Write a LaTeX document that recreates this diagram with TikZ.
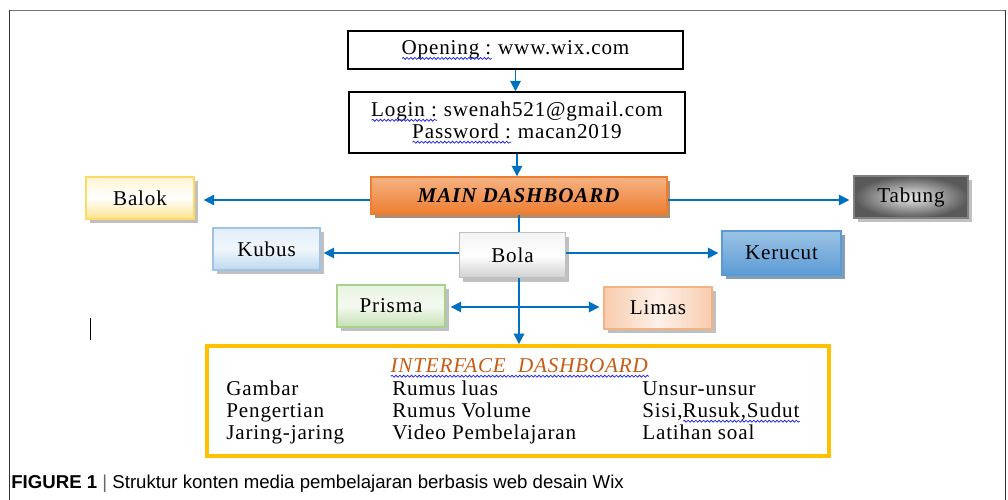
\documentclass[tikz,border=0pt]{standalone}
\usepackage{fontspec}
\setmainfont{Liberation Serif}[LetterSpace=4]
\newfontfamily\capfont{Liberation Sans}
\usetikzlibrary{positioning, calc, arrows.meta, shadows, decorations.pathmorphing}

\definecolor{linkblue}{RGB}{0,112,192}
\definecolor{spellblue}{RGB}{40,40,230}
\definecolor{titleorange}{RGB}{197,90,17}
\definecolor{goldline}{RGB}{255,192,0}
\definecolor{shadowblue}{RGB}{31,78,121}

\newlength\wavelen
\newcommand\spellwave[1]{\settowidth\wavelen{#1}\rlap{#1}\tikz[baseline=0pt]\draw[spellblue, line width=0.45pt,
	decorate, decoration={snake, amplitude=0.55pt, segment length=2.2pt}] (0pt,-2.4pt) -- (\wavelen,-2.4pt);}

\tikzset{
	plainbox/.style={draw, line width=0.8pt},
	tile/.style={line width=0.8pt, minimum width=2.16cm, minimum height=0.84cm,
		drop shadow={shadow xshift=2pt, shadow yshift=-2.5pt, fill=#1, opacity=0.55}},
	tile/.default=black!45,
	link/.style={draw=linkblue, line width=1pt, -{Triangle[length=6pt, width=6pt]}},
	wire/.style={draw=linkblue, line width=1pt},
	item/.style={anchor=base west, inner sep=0pt}
}

\begin{document}
\begin{tikzpicture}[x=0.02cm, y=-0.02cm, font=\fontsize{12}{12.5}\selectfont]
\useasboundingbox (0,0) rectangle (1008,500);
\draw[black!55, line width=0.9pt] (9.5,10.5) -- (1005.5,10.5);
\draw[black!80, line width=0.9pt] (9.5,10) -- (9.5,500) (1005.5,10) -- (1005.5,500);

\node[plainbox, minimum width=6.7cm, minimum height=0.76cm] (open) at (515.5,50)
	{\spellwave{Opening :} www.wix.com};
\node[plainbox, minimum width=6.72cm, minimum height=1.22cm, align=center] (login) at (517,122.5)
	{\spellwave{Login :} swenah521@gmail.com\\\spellwave{Password :} macan2019};

\node[tile=orange!40!black, draw={rgb,255:red,237;green,125;blue,49}, minimum width=5.92cm, minimum height=0.74cm,
	top color={rgb,255:red,246;green,179;blue,131}, bottom color={rgb,255:red,237;green,125;blue,49}] (main) at (519,195.5)
	{\textbf{\textit{MAIN DASHBOARD}}};

\node[tile, draw={rgb,255:red,255;green,217;blue,102}, top color={rgb,255:red,255;green,244;blue,210},
	bottom color={rgb,255:red,255;green,226;blue,140}, middle color=white] (balok) at (140,198) {Balok};
\node[tile, draw=black!50, minimum width=2.28cm, inner color=black!8, outer color=black!65] (tabung) at (911,197) {Tabung};

\node[tile, draw=black!25, minimum width=2.12cm, minimum height=0.9cm, top color=black!5,
	bottom color=black!18, middle color=white] (bola) at (512.5,255) {Bola};
\node[tile, draw={rgb,255:red,157;green,195;blue,230}, minimum width=2.14cm, top color={rgb,255:red,227;green,238;blue,249},
	bottom color={rgb,255:red,189;green,215;blue,238}, middle color={rgb,255:red,240;green,246;blue,252}] (kubus) at (266.5,249) {Kubus};
\node[tile=shadowblue, draw={rgb,255:red,91;green,155;blue,213}, minimum width=2.38cm, minimum height=0.88cm,
	top color={rgb,255:red,157;green,195;blue,230}, bottom color={rgb,255:red,91;green,155;blue,213}] (kerucut) at (781.5,253) {Kerucut};

\node[tile, draw={rgb,255:red,169;green,209;blue,142}, top color={rgb,255:red,232;green,243;blue,224},
	bottom color={rgb,255:red,197;green,224;blue,180}, middle color={rgb,255:red,244;green,250;blue,240}] (prisma) at (391,306) {Prisma};
\node[tile, draw={rgb,255:red,244;green,177;blue,131}, left color={rgb,255:red,248;green,203;blue,173},
	right color={rgb,255:red,248;green,203;blue,173}, middle color={rgb,255:red,253;green,241;blue,233}] (limas) at (658,308) {Limas};

\node[draw=goldline, line width=2.2pt, minimum width=12.44cm, minimum height=2.2cm] (iface) at (518,401) {};
\node[anchor=base] (ititle) at (520,372) {\textcolor{titleorange}{\spellwave{\textit{INTERFACE\ \ DASHBOARD}}}};
\foreach \x/\m/\a/\b/\c in {226/1/Gambar/Pengertian/Jaring-jaring, 392/2/Rumus luas/Rumus Volume/Video Pembelajaran,
	642/3/Unsur-unsur/{Sisi,\spellwave{Rusuk,Sudut}}/Latihan soal}
{
	\node[item] (r1c\m) at (\x,395) {\a};
	\node[item] (r2c\m) at (\x,417) {\b};
	\node[item] (r3c\m) at (\x,439) {\c};
}

\draw[link] (open.south) -- (open.south |- login.north);
\draw[link] (login.south) -- (login.south |- main.north);
\draw[wire] (main.south) -- (main.south |- bola.north);
\draw[link] (main.south |- bola.south) -- (main.south |- iface.north);
\draw[link, shorten >=0.18cm] (main.west |- 0,200) -- (balok.east |- 0,200);
\draw[link, shorten >=0.08cm] (main.east |- 0,200) -- (tabung.west |- 0,200);
\draw[link, shorten >=0.06cm] (bola.west |- 0,253) -- (kubus.east |- 0,253);
\draw[link, shorten >=0.06cm] (bola.east |- 0,253) -- (kerucut.west |- 0,253);
\draw[link, {Triangle[length=6pt, width=6pt]}-{Triangle[length=6pt, width=6pt]}, shorten <=0.1cm, shorten >=0.08cm]
	(prisma.east |- 0,307) -- (limas.west |- 0,307);

\draw[line width=1pt] (90.5,318) -- (90.5,340);

\node[anchor=west, inner sep=0pt, font=\capfont\fontsize{10.6}{12}\selectfont] (caption) at (11,484)
	{\textbf{FIGURE 1} \textcolor{black!60}{|} Struktur konten media pembelajaran berbasis web desain Wix};
\end{tikzpicture}
\end{document}
